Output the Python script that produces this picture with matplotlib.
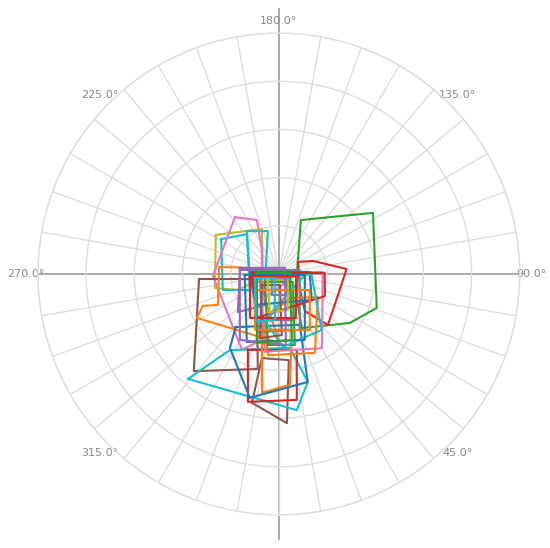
import numpy as np
import matplotlib
matplotlib.use("Agg")
import matplotlib.pyplot as plt

# ---- data : each series is a closed polygon given by (theta in degrees, r) ----
theta_1 = [96.3, 157.8, 123.0, 70.9, 55.4, 23.1, 34.7]
r_1 = [0.38, 1.21, 2.33, 2.15, 1.79, 1.22, 0.66]
theta_2 = [122.3, 110.9, 94.2, 43.9, 35.1, 52.7]
r_2 = [0.47, 0.76, 1.41, 1.47, 0.94, 0.55]
theta_3 = [238.2, 200.7, 280.6, 291.3, 282.3]
r_3 = [1.54, 1.00, 0.34, 0.91, 1.36]
theta_4 = [238.9, 218.7, 298.9, 285.9]
r_4 = [1.40, 1.06, 0.69, 1.21]
theta_5 = [216.7, 194.3, 299.7, 285.4]
r_5 = [1.11, 0.92, 0.33, 0.62]
theta_6 = [217.7, 202.2, 215.3, 345.6, 334.0, 271.7]
r_6 = [1.49, 1.21, 0.61, 1.41, 1.75, 1.37]
theta_7 = [273.6, 282.8, 347.5, 318.8]
r_7 = [1.66, 0.47, 2.02, 2.68]
theta_8 = [348.2, 3.1, 6.6, 348.6]
r_8 = [2.73, 3.10, 1.80, 1.78]
theta_9 = [319.1, 327.2, 8.5, 15.0, 7.5]
r_9 = [2.88, 1.88, 1.55, 2.32, 2.85]
theta_10 = [337.8, 13.3, 8.1, 346.4]
r_10 = [1.70, 1.62, 2.64, 2.73]
theta_11 = [263.3, 252.5, 331.7, 0.8, 298.2, 292.8, 296.9]
r_11 = [1.25, 0.41, 0.61, 1.43, 1.93, 1.71, 1.42]
theta_12 = [343.1, 351.9, 5.7, 13.1]
r_12 = [1.21, 2.49, 2.31, 1.19]
theta_13 = [320.9, 22.4, 15.0, 346.8, 326.5]
r_13 = [1.42, 1.14, 2.32, 2.64, 1.84]
theta_14 = [264.1, 254.1, 335.7, 312.8]
r_14 = [0.81, 0.30, 0.71, 1.16]
theta_15 = [95.4, 92.6, 30.2, 349.8, 326.8]
r_15 = [0.44, 0.91, 1.78, 1.64, 0.64]
theta_16 = [24.6, 59.5, 24.5, 352.3, 343.1]
r_16 = [0.55, 0.94, 1.80, 1.70, 1.00]
theta_17 = [260.5, 100.8, 20.6, 340.1]
r_17 = [0.50, 0.44, 1.24, 1.28]
theta_18 = [281.9, 70.0, 15.8, 339.7]
r_18 = [0.40, 0.24, 0.99, 1.02]
theta_19 = [299.7, 60.3, 12.7, 351.2]
r_19 = [0.33, 0.33, 1.51, 1.49]
theta_20 = [266.1, 93.7, 51.8, 322.3]
r_20 = [0.60, 0.64, 0.87, 0.81]
theta_21 = [267.9, 91.2, 64.4, 333.4]
r_21 = [0.56, 0.95, 1.06, 1.02]
theta_22 = [87.8, 88.3, 37.5, 3.1, 343.1]
r_22 = [0.54, 0.68, 1.46, 1.52, 1.00]
theta_23 = [302.9, 5.2, 2.8, 343.5]
r_23 = [0.42, 0.23, 1.27, 1.39]
theta_24 = [298.6, 56.3, 14.0, 346.7]
r_24 = [0.26, 0.22, 0.77, 0.81]
theta_25 = [278.1, 81.9, 18.4, 341.6]
r_25 = [0.15, 0.15, 0.46, 0.46]
theta_26 = [271.7, 87.8, 21.5, 334.8]
r_26 = [0.71, 0.54, 1.47, 1.56]
theta_27 = [261.3, 135.0, 5.6, 329.4]
r_27 = [0.82, 0.18, 1.48, 1.59]
theta_28 = [303.7, 62.7, 29.0, 336.8]
r_28 = [0.60, 0.72, 1.33, 1.26]
theta_29 = [267.4, 95.2, 11.1, 342.3]
r_29 = [0.46, 0.23, 1.40, 1.50]
theta_30 = [273.9, 83.3, 21.1, 326.6]
r_30 = [0.60, 0.36, 0.98, 1.09]
theta_31 = [279.5, 315.0, 355.0, 334.4]
r_31 = [0.50, 0.12, 0.96, 1.10]

series = [
    (theta_1, r_1), (theta_2, r_2), (theta_3, r_3), (theta_4, r_4), (theta_5, r_5),
    (theta_6, r_6), (theta_7, r_7), (theta_8, r_8), (theta_9, r_9), (theta_10, r_10),
    (theta_11, r_11), (theta_12, r_12), (theta_13, r_13), (theta_14, r_14), (theta_15, r_15),
    (theta_16, r_16), (theta_17, r_17), (theta_18, r_18), (theta_19, r_19), (theta_20, r_20),
    (theta_21, r_21), (theta_22, r_22), (theta_23, r_23), (theta_24, r_24), (theta_25, r_25),
    (theta_26, r_26), (theta_27, r_27), (theta_28, r_28), (theta_29, r_29), (theta_30, r_30),
    (theta_31, r_31),
]
couleurs = ["tab:green", "tab:red", "tab:olive", "tab:cyan", "tab:cyan",
            "tab:pink", "tab:brown", "tab:brown", "tab:cyan", "tab:red",
            "tab:orange", "tab:orange", "tab:blue", "tab:purple", "tab:pink",
            "tab:orange", "tab:gray", "tab:purple", "tab:green", "tab:blue",
            "tab:red", "tab:cyan", "tab:brown", "tab:olive", "tab:gray",
            "tab:blue", "tab:purple", "tab:orange", "tab:green", "tab:red",
            "tab:cyan"]

tick_angles = [45, 90, 135, 180, 225, 270, 315]

# ---- figure ----
fig = plt.figure(figsize=(5.5, 5.48), dpi=100)
ax = fig.add_axes([0.069, 0.060, 0.876, 0.880], projection="polar")
ax.set_theta_zero_location("S")
ax.set_theta_direction(1)
ax.set_ylim(0, 5)

ax.set_xticks(np.radians(tick_angles))
ax.set_xticklabels(["%.1f°" % a for a in tick_angles], color="#888888", fontsize=8)
ax.set_xticks(np.radians(np.arange(0, 360, 10)), minor=True)
ax.tick_params(axis="x", which="major", pad=-2)
ax.xaxis.grid(False, which="major")
ax.xaxis.grid(True, which="minor", color="#dddddd", linewidth=1.0)
ax.set_yticks([1, 2, 3, 4, 5])
ax.set_yticklabels([])
ax.yaxis.grid(True, color="#dddddd", linewidth=1.0)
ax.spines["polar"].set_color("#dddddd")
ax.spines["polar"].set_linewidth(1.0)

# axes en croix
ax.plot(np.radians([0, 0]), [0, 5.5], color="#999999", lw=1.2, clip_on=False, zorder=1)
ax.plot(np.radians([180, 180]), [0, 5.5], color="#999999", lw=1.2, clip_on=False, zorder=1)
ax.plot(np.radians([90, 90]), [0, 5], color="#999999", lw=1.2, zorder=1)
ax.plot(np.radians([270, 270]), [0, 5], color="#999999", lw=1.2, zorder=1)

for (th, r), c in zip(series, couleurs):
    th = np.radians(th + th[:1])
    r = r + r[:1]
    ax.plot(th, r, color=c, lw=1.5, zorder=3)

fig.savefig("out.png")
